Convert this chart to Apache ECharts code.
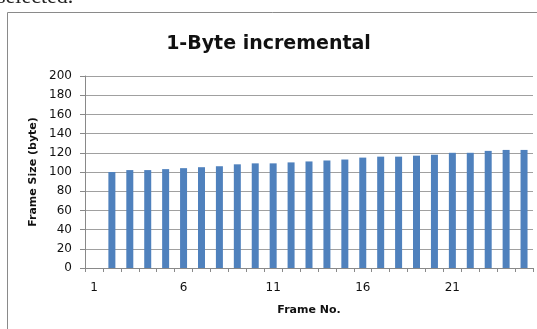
<!DOCTYPE html>
<html>
<head>
<meta charset="utf-8">
<style>
  html, body { margin: 0; padding: 0; background: #fff; }
  #chart { width: 537px; height: 329px; }
</style>
<script src="https://cdn.jsdelivr.net/npm/echarts@6/dist/echarts.min.js"></script>
</head>
<body>
<div id="chart"></div>
<script>
const frameNos = [
  '1', '2', '3', '4', '5', '6', '7', '8', '9', '10', '11', '12', '13',
  '14', '15', '16', '17', '18', '19', '20', '21', '22', '23', '24', '25'
];
// frame 1 has no bar in the picture
const frameSizes = [
  null, 100, 102, 102, 103, 104, 105, 106, 108, 109, 109, 110, 111,
  112, 113, 115, 116, 116, 117, 118, 120, 120, 122, 123, 123
];

const baseFont = 'DejaVu Sans';
const gray = '#898989';

const myChart = echarts.init(document.querySelector('#chart'), null, { renderer: 'canvas' });

const option = {
  animation: false,
  backgroundColor: '#fff',
  title: {
    text: '1-Byte incremental',
    left: 'center',
    top: 30,
    textStyle: {
      fontFamily: baseFont,
      fontWeight: 'bold',
      fontSize: 19,
      color: '#111'
    }
  },
  graphic: [
    {
      type: 'rect',
      shape: { x: 7.5, y: 12.5, width: 600, height: 400 },
      style: { fill: 'none', stroke: '#8a8a8a', lineWidth: 1 },
      z: -1
    },
    {
      type: 'text',
      x: -3,
      y: 8,
      style: {
        text: 'selected.',
        font: '22px "Liberation Serif"',
        fill: '#222',
        verticalAlign: 'bottom'
      }
    }
  ],
  grid: {
    left: 85,
    right: 4,
    top: 76,
    bottom: 61
  },
  xAxis: {
    type: 'category',
    data: frameNos,
    name: 'Frame No.',
    nameLocation: 'middle',
    nameGap: 37,
    nameTextStyle: {
      fontFamily: baseFont,
      fontWeight: 'bold',
      fontSize: 11,
      color: '#111'
    },
    axisLine: { lineStyle: { color: gray } },
    axisTick: { show: true, interval: 0, length: 4, lineStyle: { color: gray } },
    axisLabel: {
      interval: 4,
      margin: 14,
      fontFamily: baseFont,
      fontSize: 12,
      color: '#111'
    }
  },
  yAxis: {
    type: 'value',
    min: 0,
    max: 200,
    interval: 20,
    name: 'Frame Size (byte)',
    nameLocation: 'middle',
    nameGap: 42,
    nameTextStyle: {
      fontFamily: baseFont,
      fontWeight: 'bold',
      fontSize: 11,
      color: '#111'
    },
    axisLine: { show: true, lineStyle: { color: gray } },
    axisTick: { show: true, length: 5, lineStyle: { color: gray } },
    axisLabel: {
      margin: 13,
      fontFamily: baseFont,
      fontSize: 12,
      color: '#111'
    },
    splitLine: { show: true, lineStyle: { color: '#a0a0a0', width: 1 } }
  },
  series: [
    {
      name: 'Frame Size',
      type: 'bar',
      data: frameSizes,
      barWidth: 7,
      itemStyle: { color: '#4f81bd' }
    }
  ]
};

myChart.setOption(option);
</script>
</body>
</html>
